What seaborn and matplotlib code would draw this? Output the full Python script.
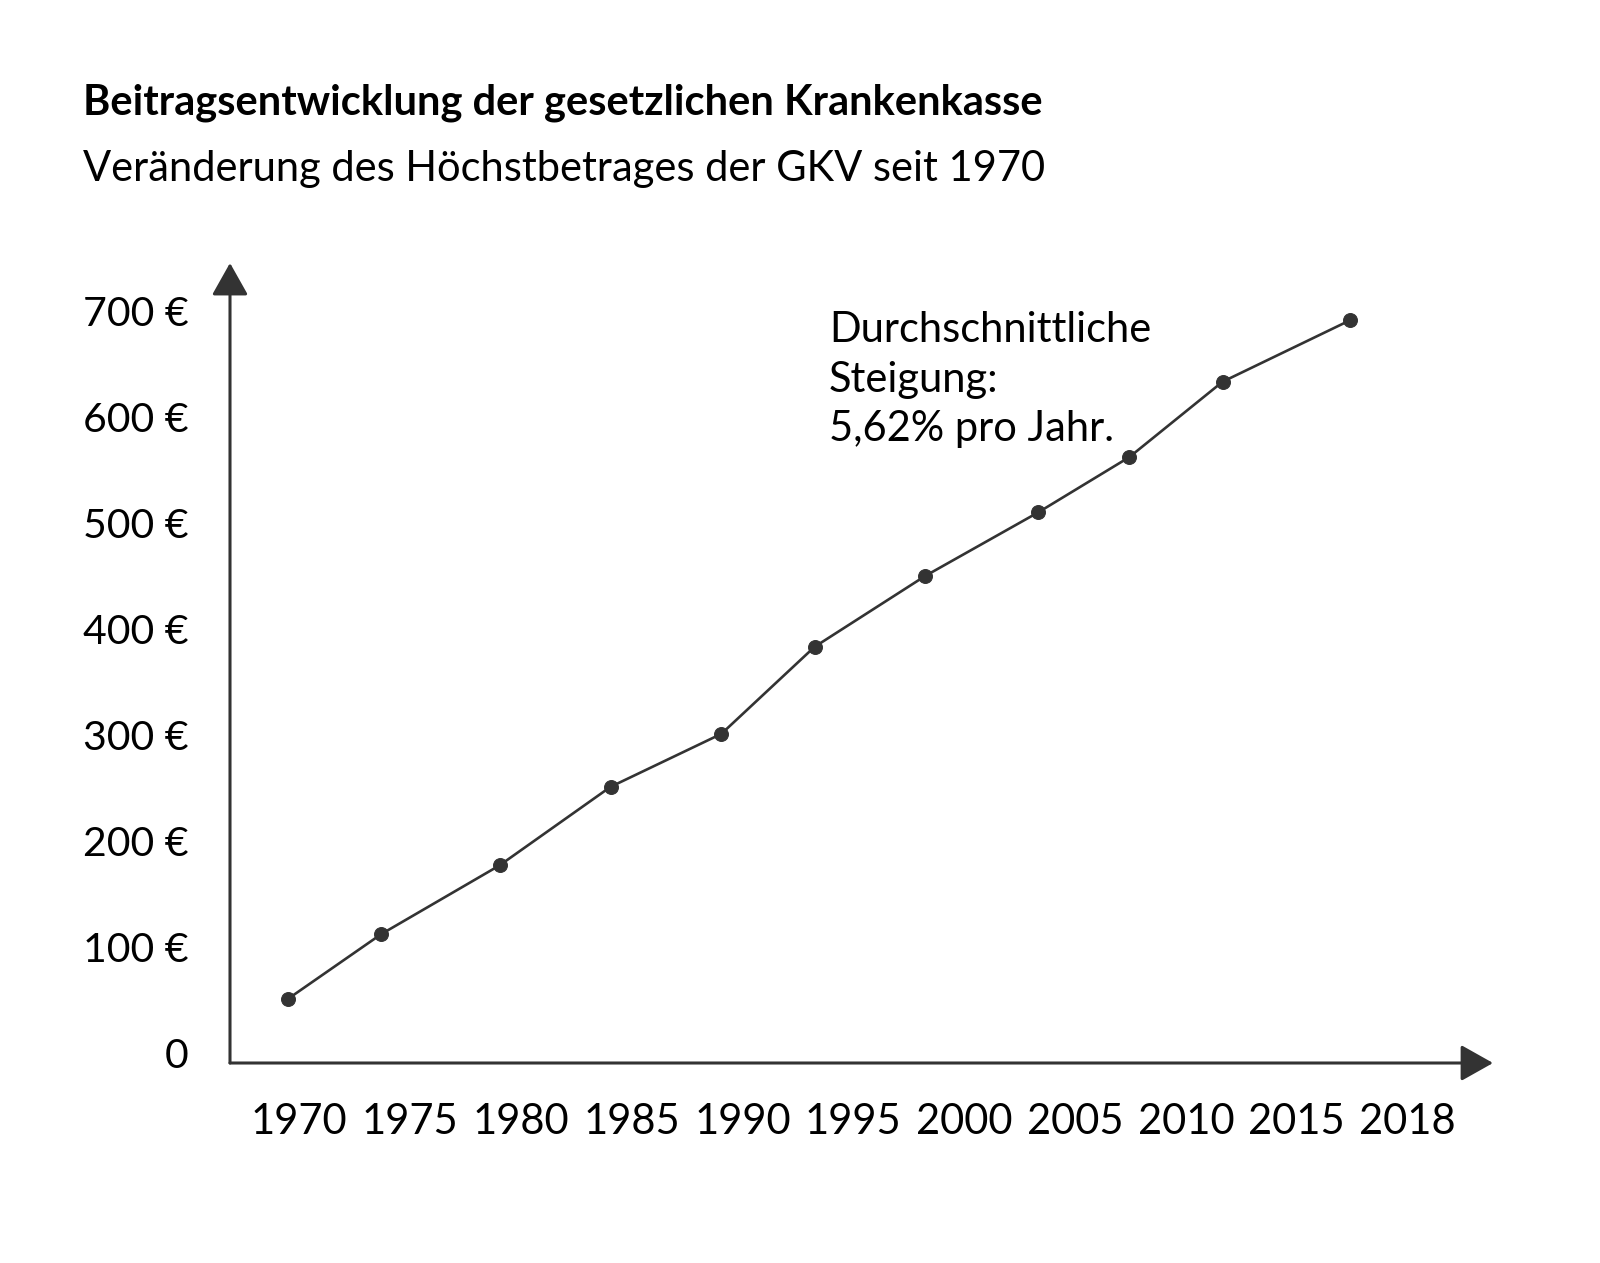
import matplotlib
matplotlib.use("Agg")
import matplotlib.pyplot as plt
import seaborn as sns
import pandas as pd

# Daten
jahr_labels = ["1970", "1975", "1980", "1985", "1990", "1995",
               "2000", "2005", "2010", "2015", "2018"]
punkt_pos = [-0.10, 0.74, 1.81, 2.81, 3.81, 4.65, 5.65, 6.67, 7.49, 8.33, 9.48]
beitrag = [51, 112, 177, 251, 301, 383, 450, 510, 562, 633, 691]
y_ticks = [0, 100, 200, 300, 400, 500, 600, 700]
y_labels = ["0", "100 €", "200 €", "300 €", "400 €", "500 €", "600 €", "700 €"]

farbe = "#333333"

sns.set_theme(style="white")
plt.rcParams["font.family"] = ["Lato", "DejaVu Sans"]

df = pd.DataFrame({"pos": punkt_pos, "beitrag": beitrag})

fig = plt.figure(figsize=(16, 12.63), dpi=100)
ax = fig.add_axes([0.14375, 0.15835, 0.7894, 0.6334])

sns.lineplot(data=df, x="pos", y="beitrag", ax=ax, color=farbe,
             linewidth=1.9, marker="o", markersize=10,
             markeredgecolor=farbe, markerfacecolor=farbe)

ax.set_xlim(-0.622, 10.77)
ax.set_ylim(-9.4, 745)
ax.set_xticks(range(len(jahr_labels)))
ax.set_xticklabels(jahr_labels)
ax.set_yticks(y_ticks)
ax.set_yticklabels(y_labels)
ax.tick_params(axis="x", length=0, pad=29, labelsize=30, labelcolor="black")
ax.tick_params(axis="y", length=0, pad=30, labelsize=29.5, labelcolor="black")
ax.set_xlabel("")
ax.set_ylabel("")
for s in ax.spines.values():
    s.set_visible(False)
ax.grid(False)

# Achsenpfeile
pfeil = dict(arrowstyle="-|>,head_length=0.8,head_width=0.45",
             mutation_scale=25, lw=2.2, color=farbe, shrinkA=0, shrinkB=0)
ax.annotate("", xy=(1, 0), xytext=(0, 0), xycoords="axes fraction",
            textcoords="axes fraction", arrowprops=pfeil)
ax.annotate("", xy=(0, 1), xytext=(0, 0), xycoords="axes fraction",
            textcoords="axes fraction", arrowprops=pfeil)

ax.text(4.78, 700, "Durchschnittliche\nSteigung:\n5,62% pro Jahr.",
        fontsize=30, color="black", va="top", ha="left", linespacing=1.38)

# Titel
fig.text(0.0519, 1 - 114 / 1263, "Beitragsentwicklung der gesetzlichen Krankenkasse",
         fontsize=30, fontweight="bold", color="black", va="baseline")
fig.text(0.0519, 1 - 181 / 1263, "Veränderung des Höchstbetrages der GKV seit 1970",
         fontsize=30, color="black", va="baseline")

plt.savefig("out.png", dpi=100)
